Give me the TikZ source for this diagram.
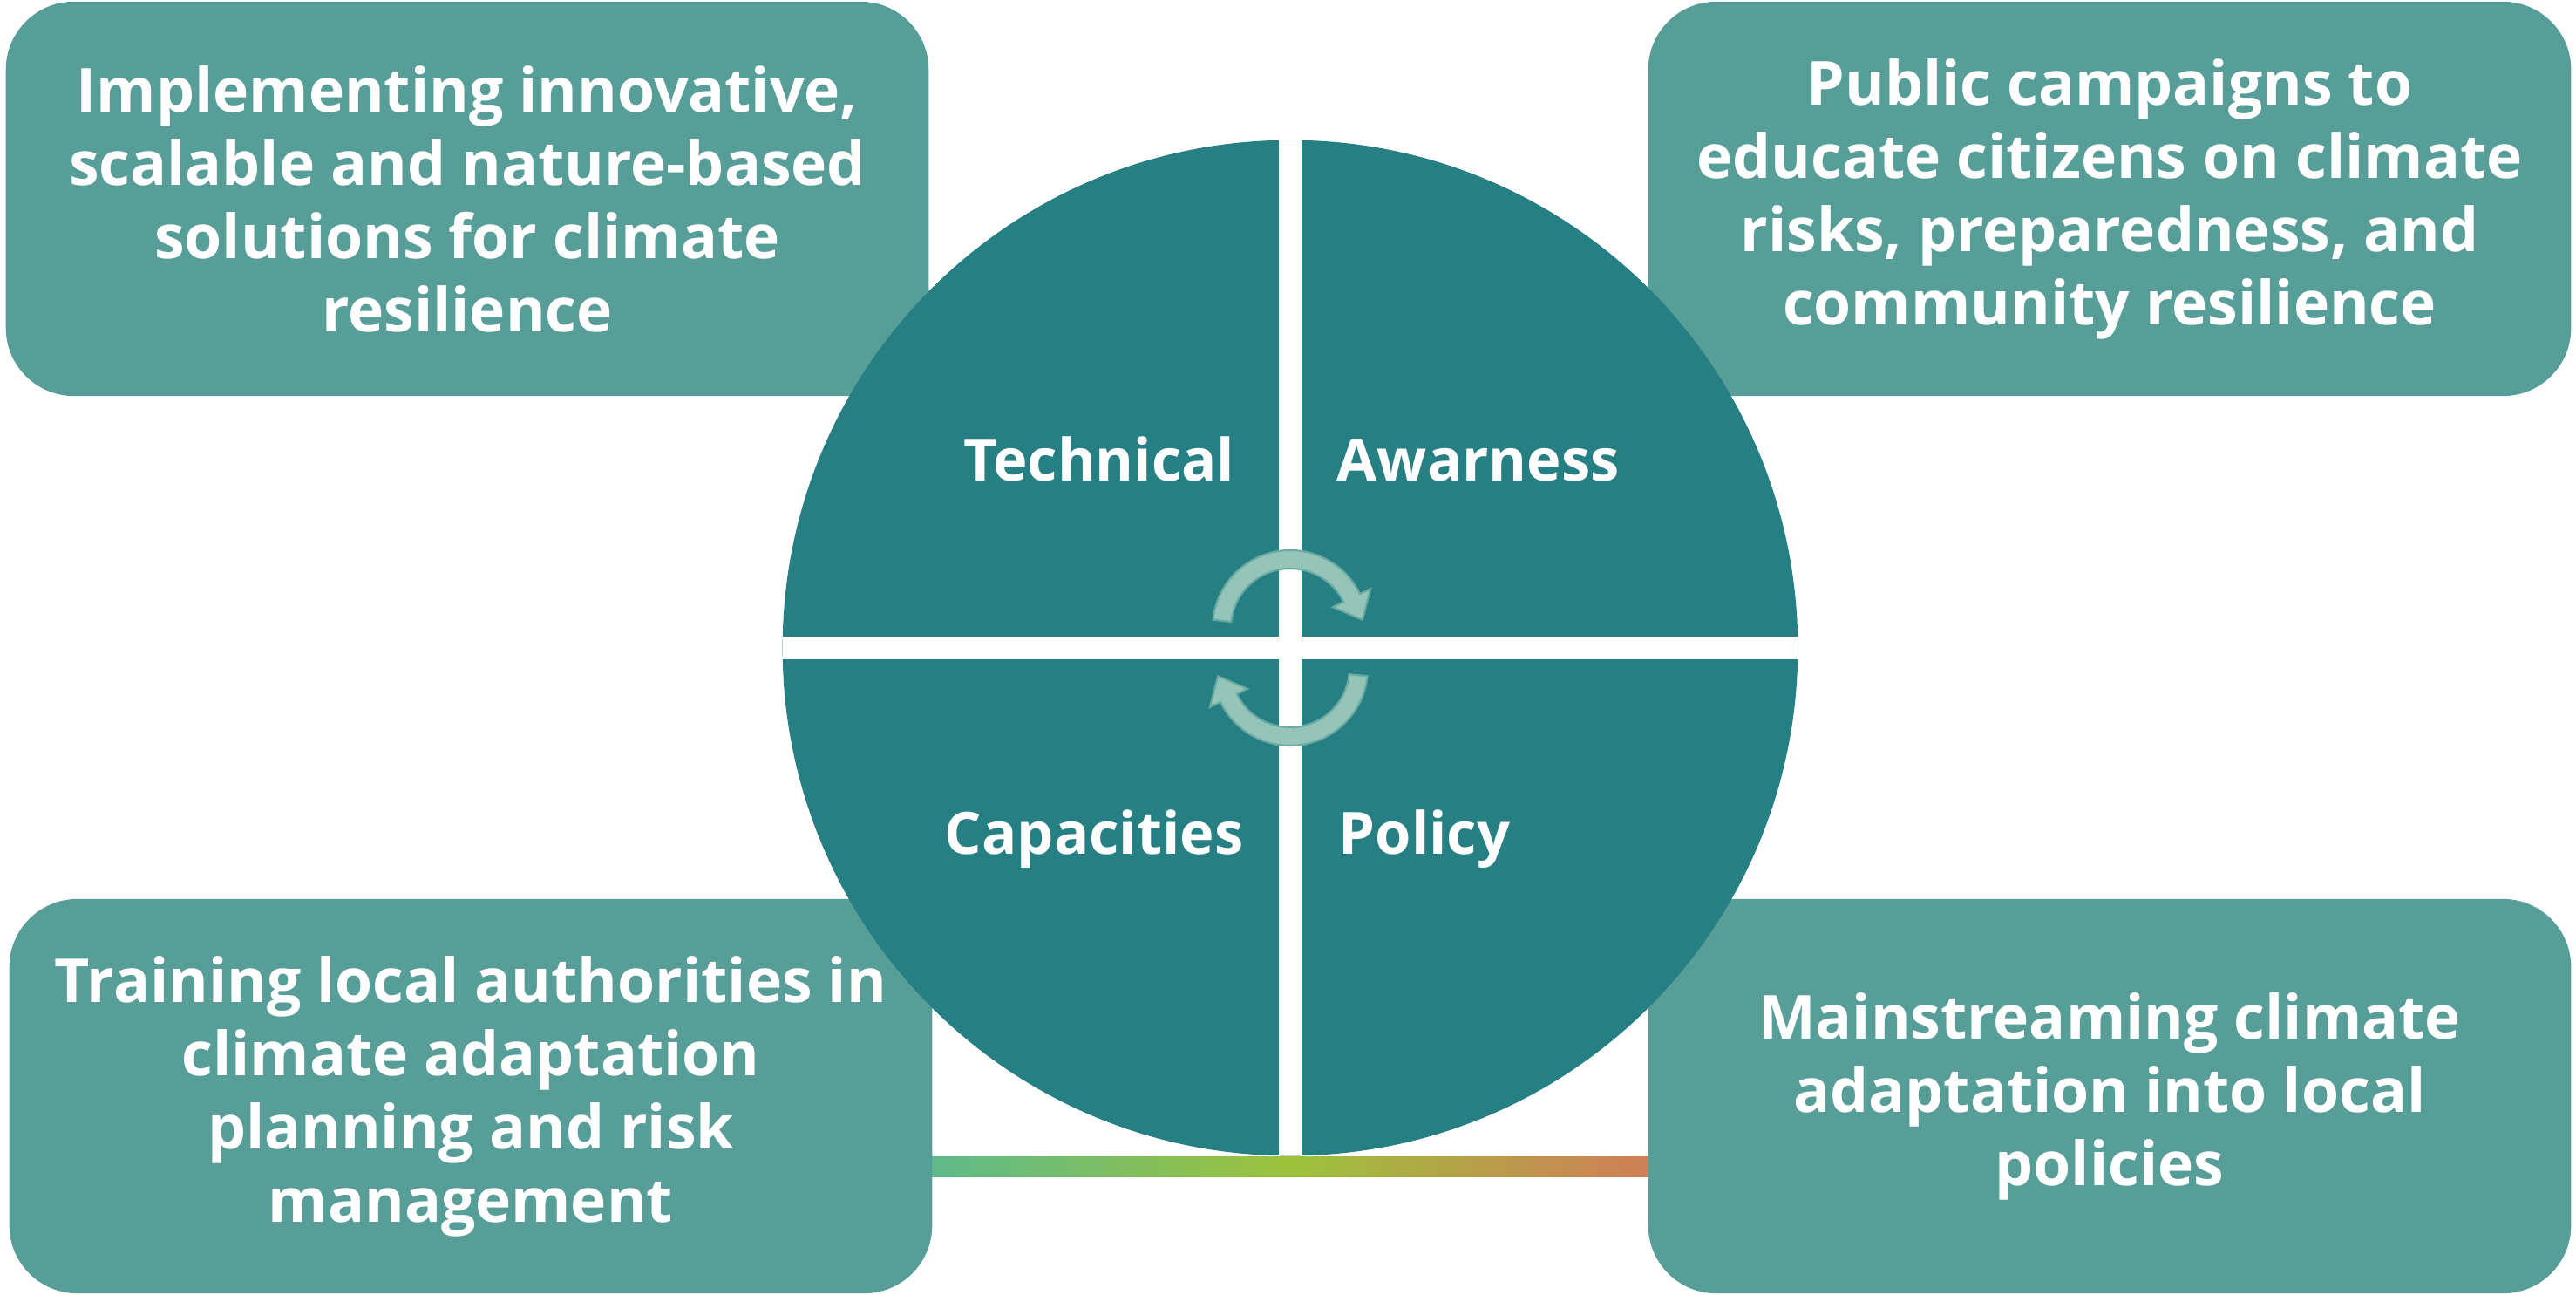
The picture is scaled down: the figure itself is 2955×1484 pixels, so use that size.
\documentclass[tikz,border=0pt]{standalone}
\usepackage{fontspec}
\setmainfont{Open Sans}
\usetikzlibrary{calc}

\definecolor{boxteal}{HTML}{579E99}
\definecolor{hubteal}{HTML}{267F82}
\definecolor{arrowfill}{HTML}{94C5B8}
\definecolor{arrowedge}{HTML}{6AAAA3}
\definecolor{barleft}{HTML}{5FBB8A}
\definecolor{barmid}{HTML}{9CC23C}
\definecolor{barright}{HTML}{D07F57}

\tikzset{
  infobox/.style={fill=boxteal, rounded corners=0.78cm, minimum width=10.58cm,
    minimum height=4.52cm, align=center, text=white, inner sep=0, outer sep=0,
    font=\fontsize{19.8}{23.9}\selectfont\bfseries},
  quadlabel/.style={text=white, inner sep=0, font=\fontsize{19}{23}\selectfont\bfseries},
  cyclearrow/.style={fill=arrowfill, draw=arrowedge, line width=0.6pt},
}

% turning arrow round centre #1, turned by #2 degrees
\newcommand{\turnarrow}[2]{%
  \filldraw[cyclearrow] ($(#1)+({186+#2}:89)$) arc[start angle={186+#2}, end angle={334+#2}, radius=89]
    -- ($(#1)+({334+#2}:102.5)$) -- ($(#1)+({334+#2}:78.5)+({64+#2}:28)$) -- ($(#1)+({334+#2}:54.5)$)
    -- ($(#1)+({334+#2}:68)$) arc[start angle={334+#2}, end angle={186+#2}, radius=68] -- cycle;}

\begin{document}
\begin{tikzpicture}[x=0.01cm, y=-0.01cm]
    \useasboundingbox (0,0) rectangle (2955,1484);
    % colour bar
    \foreach \i in {0,...,40} {
      \pgfmathsetmacro\p{\i*2.5}
      \fill[barmid!\p!barleft] ({1069+\i*10.05},1326) rectangle ({1069+(\i+1)*10.05+1},1350);
      \fill[barright!\p!barmid] ({1480+\i*10.05},1326) rectangle ({1480+(\i+1)*10.05+1},1350);
    }

    \node[infobox] (tl) at (536,228) {Implementing innovative,\\ scalable and nature-based\\ solutions for climate\\ resilience};
    \node[infobox] (tr) at (2420,228) {Public campaigns to\\ educate citizens on climate\\ risks, preparedness, and\\ community resilience};
    \node[infobox] (bl) at (540,1257) {Training local authorities in\\ climate adaptation\\ planning and risk\\ management};
    \node[infobox] (br) at (2420,1257) {Mainstreaming climate\\ adaptation into local\\ policies};

    \node[circle, fill=hubteal, minimum size=11.64cm, inner sep=0, outer sep=0] (hub) at (1480,743) {};
    \fill[white] ($(hub.north)+(-13,0)$) rectangle ($(hub.south)+(13,0)$);
    \fill[white] ($(hub.west)+(0,-13)$) rectangle ($(hub.east)+(0,13)$);

    \coordinate (ctop) at (1480,720);
    \coordinate (cbot) at (1480,766);
    \turnarrow{ctop}{0}
    \turnarrow{cbot}{180}

    \node[quadlabel, anchor=base east] (tech) at (1417,551) {Technical};
    \node[quadlabel, anchor=base west] (aware) at (1533,551) {Awarness};
    \node[quadlabel, anchor=base east] (capa) at (1427,979) {Capacities};
    \node[quadlabel, anchor=base west] (policy) at (1535,979) {Policy};
\end{tikzpicture}
\end{document}
